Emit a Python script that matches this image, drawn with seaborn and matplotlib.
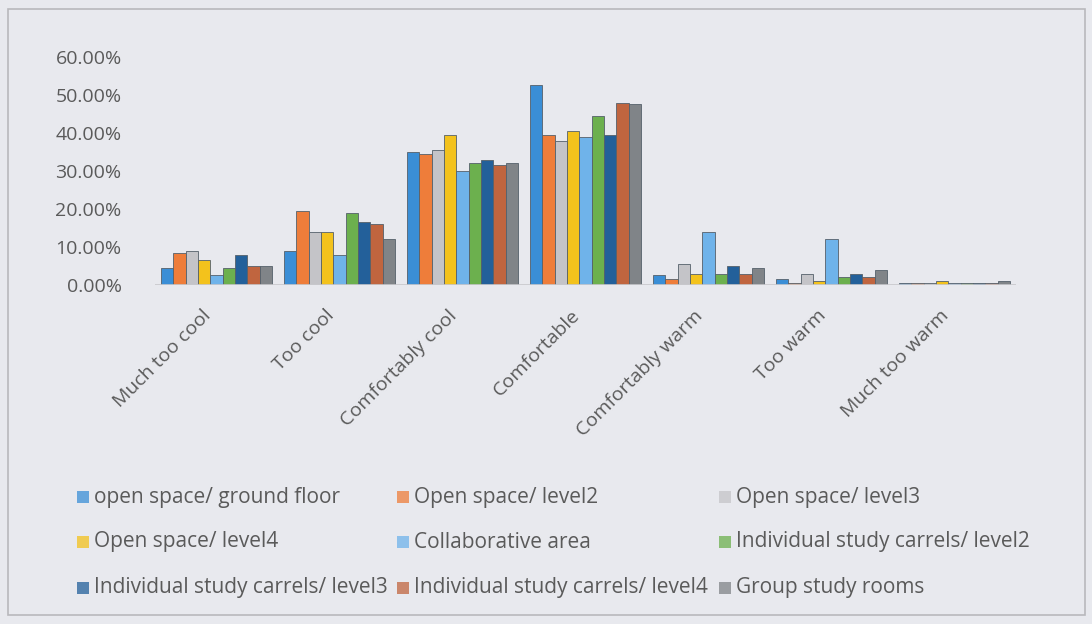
import pandas as pd
import matplotlib.pyplot as plt
import matplotlib.transforms as mtransforms
import seaborn as sns

# Categories and series
categories = ['Much too cool', 'Too cool', 'Comfortably cool', 'Comfortable',
              'Comfortably warm', 'Too warm', 'Much too warm']
series = ['open space/ ground floor', 'Open space/ level2', 'Open space/ level3',
          'Open space/ level4', 'Collaborative area', 'Individual study carrels/ level2',
          'Individual study carrels/ level3', 'Individual study carrels/ level4',
          'Group study rooms']

# Percentages per series (one value per category)
ground_floor = [4.5, 9.0, 35.0, 52.5, 2.5, 1.5, 0.5]
open_l2 = [8.5, 19.5, 34.5, 39.5, 1.5, 0.5, 0.5]
open_l3 = [9.0, 14.0, 35.5, 38.0, 5.5, 3.0, 0.5]
open_l4 = [6.5, 14.0, 39.5, 40.5, 3.0, 1.0, 1.0]
collab = [2.5, 8.0, 30.0, 39.0, 14.0, 12.0, 0.5]
carrel_l2 = [4.5, 19.0, 32.0, 44.5, 3.0, 2.0, 0.5]
carrel_l3 = [8.0, 16.5, 33.0, 39.5, 5.0, 3.0, 0.5]
carrel_l4 = [5.0, 16.0, 31.5, 48.0, 3.0, 2.0, 0.5]
group_rooms = [5.0, 12.0, 32.0, 47.5, 4.5, 4.0, 1.0]

values = [ground_floor, open_l2, open_l3, open_l4, collab,
          carrel_l2, carrel_l3, carrel_l4, group_rooms]

colors = ['#3a8ed6', '#ee7d3a', '#c4c4c8', '#f3c21c', '#6fb3ea',
          '#6cb04e', '#23609a', '#c0653f', '#808488']

rows = []
for name, vals in zip(series, values):
    for cat, v in zip(categories, vals):
        rows.append({'Category': cat, 'Series': name, 'Value': v})
df = pd.DataFrame(rows)

sns.set_style('white')
plt.rcParams['font.family'] = ['Open Sans', 'DejaVu Sans']

W, H = 1092, 624
bg = '#e8e9ee'
txt = '#5a5a5a'
fig = plt.figure(figsize=(W / 100, H / 100), dpi=100, facecolor=bg)
ax = fig.add_axes([155 / W, 1 - 285 / H, 861 / W, 228 / H])
ax.set_facecolor(bg)

sns.barplot(data=df, x='Category', y='Value', hue='Series', hue_order=series,
            order=categories, palette=colors, width=0.9, ax=ax,
            edgecolor='#55606a', linewidth=0.6, saturation=1, legend=False)

ax.set_ylim(0, 60)
ax.set_xlim(-0.5, 6.5)
ax.set_yticks(range(0, 61, 10))
ax.set_yticklabels([f'{t:.2f}%' for t in range(0, 61, 10)], fontsize=14, color=txt)
ax.tick_params(axis='y', length=0, pad=24)
ax.tick_params(axis='x', length=0, pad=20)
ax.set_xticks(range(len(categories)))
ax.set_xticklabels(categories, rotation=45, ha='right', va='center',
                   rotation_mode='anchor', fontsize=14, color=txt)
shift = mtransforms.ScaledTranslation(-8 / 100, 0, fig.dpi_scale_trans)
for lab in ax.get_xticklabels():
    lab.set_transform(lab.get_transform() + shift)
ax.set_xlabel('')
ax.set_ylabel('')
for s in ax.spines.values():
    s.set_visible(False)
ax.axhline(0, color='#c8c8cc', lw=1.2)

# legend, laid out like the Excel legend (three rows, three columns)
col_x = [77, 397, 719]
row_y = [497, 542, 588]
for i, (name, c) in enumerate(zip(series, colors)):
    px, py = col_x[i % 3], row_y[i // 3]
    fig.patches.append(plt.Rectangle((px / W, 1 - (py + 6) / H), 12 / W, 12 / H,
                                     transform=fig.transFigure, facecolor=c,
                                     edgecolor='none', alpha=0.75))
    fig.text((px + 17) / W, 1 - py / H, name, fontsize=15, color=txt,
             va='center', ha='left')

# outer frame
fig.patches.append(plt.Rectangle((8 / W, 9 / H), 1077 / W, 606 / H, transform=fig.transFigure,
                                 fill=False, edgecolor='#b8b8bc', lw=1.2))

fig.savefig('out.png', dpi=100, facecolor=bg)
